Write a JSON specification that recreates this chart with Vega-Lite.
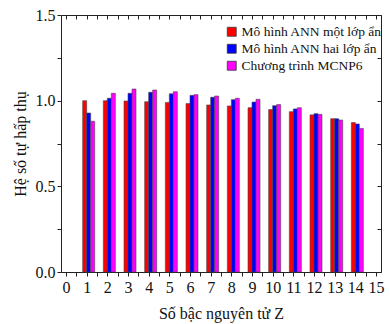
{
  "$schema": "https://vega.github.io/schema/vega-lite/v6.json",
  "width": 320,
  "height": 257,
  "autosize": {"type": "none"},
  "padding": {"left": 61, "top": 15, "right": 9, "bottom": 52},
  "background": "white",
  "config": {
    "view": {"stroke": null},
    "font": "Liberation Serif",
    "axis": {
      "domainColor": "#222",
      "tickColor": "#222",
      "labelColor": "#111",
      "titleColor": "#111",
      "labelFont": "Liberation Serif",
      "titleFont": "Liberation Serif",
      "labelFontSize": 16,
      "titleFontSize": 16,
      "titleFontWeight": "normal",
      "grid": false
    },
    "legend": {
      "labelFont": "Liberation Serif",
      "labelFontSize": 13.5,
      "labelColor": "#111",
      "labelLimit": 220
    }
  },
  "data": {
    "values": [
      {"Z": 1, "series": "Mô hình ANN một lớp ẩn", "value": 1.0},
      {"Z": 1, "series": "Mô hình ANN hai lớp ẩn", "value": 0.928},
      {"Z": 1, "series": "Chương trình MCNP6", "value": 0.88},
      {"Z": 2, "series": "Mô hình ANN một lớp ẩn", "value": 1.0},
      {"Z": 2, "series": "Mô hình ANN hai lớp ẩn", "value": 1.014},
      {"Z": 2, "series": "Chương trình MCNP6", "value": 1.043},
      {"Z": 3, "series": "Mô hình ANN một lớp ẩn", "value": 0.998},
      {"Z": 3, "series": "Mô hình ANN hai lớp ẩn", "value": 1.043},
      {"Z": 3, "series": "Chương trình MCNP6", "value": 1.068},
      {"Z": 4, "series": "Mô hình ANN một lớp ẩn", "value": 0.994},
      {"Z": 4, "series": "Mô hình ANN hai lớp ẩn", "value": 1.049},
      {"Z": 4, "series": "Chương trình MCNP6", "value": 1.062},
      {"Z": 5, "series": "Mô hình ANN một lớp ẩn", "value": 0.99},
      {"Z": 5, "series": "Mô hình ANN hai lớp ẩn", "value": 1.04},
      {"Z": 5, "series": "Chương trình MCNP6", "value": 1.052},
      {"Z": 6, "series": "Mô hình ANN một lớp ẩn", "value": 0.983},
      {"Z": 6, "series": "Mô hình ANN hai lớp ẩn", "value": 1.031},
      {"Z": 6, "series": "Chương trình MCNP6", "value": 1.035},
      {"Z": 7, "series": "Mô hình ANN một lớp ẩn", "value": 0.975},
      {"Z": 7, "series": "Mô hình ANN hai lớp ẩn", "value": 1.02},
      {"Z": 7, "series": "Chương trình MCNP6", "value": 1.027},
      {"Z": 8, "series": "Mô hình ANN một lớp ẩn", "value": 0.969},
      {"Z": 8, "series": "Mô hình ANN hai lớp ẩn", "value": 1.006},
      {"Z": 8, "series": "Chương trình MCNP6", "value": 1.014},
      {"Z": 9, "series": "Mô hình ANN một lớp ẩn", "value": 0.959},
      {"Z": 9, "series": "Mô hình ANN hai lớp ẩn", "value": 0.992},
      {"Z": 9, "series": "Chương trình MCNP6", "value": 1.008},
      {"Z": 10, "series": "Mô hình ANN một lớp ẩn", "value": 0.948},
      {"Z": 10, "series": "Mô hình ANN hai lớp ẩn", "value": 0.971},
      {"Z": 10, "series": "Chương trình MCNP6", "value": 0.977},
      {"Z": 11, "series": "Mô hình ANN một lớp ẩn", "value": 0.936},
      {"Z": 11, "series": "Mô hình ANN hai lớp ẩn", "value": 0.952},
      {"Z": 11, "series": "Chương trình MCNP6", "value": 0.959},
      {"Z": 12, "series": "Mô hình ANN một lớp ẩn", "value": 0.917},
      {"Z": 12, "series": "Mô hình ANN hai lớp ẩn", "value": 0.924},
      {"Z": 12, "series": "Chương trình MCNP6", "value": 0.92},
      {"Z": 13, "series": "Mô hình ANN một lớp ẩn", "value": 0.895},
      {"Z": 13, "series": "Mô hình ANN hai lớp ẩn", "value": 0.895},
      {"Z": 13, "series": "Chương trình MCNP6", "value": 0.887},
      {"Z": 14, "series": "Mô hình ANN một lớp ẩn", "value": 0.872},
      {"Z": 14, "series": "Mô hình ANN hai lớp ẩn", "value": 0.864},
      {"Z": 14, "series": "Chương trình MCNP6", "value": 0.838}
    ]
  },
  "layer": [
    {
      "encoding": {
        "x": {
          "field": "Z",
          "type": "quantitative",
          "scale": {"domain": [0, 15], "nice": false, "zero": false},
          "axis": {
            "orient": "bottom",
            "title": "Số bậc nguyên tử Z",
            "values": [0, 0.5, 1, 1.5, 2, 2.5, 3, 3.5, 4, 4.5, 5, 5.5, 6, 6.5, 7, 7.5, 8, 8.5, 9, 9.5, 10, 10.5, 11, 11.5, 12, 12.5, 13, 13.5, 14, 14.5, 15],
            "labelExpr": "datum.value % 1 === 0 ? format(datum.value, 'd') : ''",
            "tickSize": 4,
            "labelPadding": 3,
            "titlePadding": 10,
            "labelFlush": false,
            "labelOverlap": false
          }
        },
        "y": {
          "field": "value",
          "type": "quantitative",
          "scale": {"domain": [0, 1.5], "nice": false},
          "axis": {
            "orient": "left",
            "title": "Hệ số tự hấp thụ",
            "values": [0, 0.25, 0.5, 0.75, 1, 1.25, 1.5],
            "labelExpr": "datum.value * 2 % 1 === 0 ? format(datum.value, '.1f') : ''",
            "tickSize": 4,
            "labelPadding": 2,
            "titlePadding": 7
          }
        },
        "color": {
          "field": "series",
          "type": "nominal",
          "sort": ["Mô hình ANN một lớp ẩn", "Mô hình ANN hai lớp ẩn", "Chương trình MCNP6"],
          "scale": {
            "domain": ["Mô hình ANN một lớp ẩn", "Mô hình ANN hai lớp ẩn", "Chương trình MCNP6"],
            "range": ["#ff0000", "#0000ff", "#ff00ff"]
          },
          "legend": {
            "title": null,
            "orient": "none",
            "legendX": 164,
            "legendY": 10,
            "symbolType": "square",
            "symbolSize": 80,
            "symbolStrokeColor": "#333",
            "symbolStrokeWidth": 0.8,
            "rowPadding": 2,
            "labelOffset": 3
          }
        }
      },
      "layer": [
        {
          "transform": [{"filter": "datum.series === 'Mô hình ANN một lớp ẩn'"}],
          "mark": {"type": "bar", "width": 4, "xOffset": -2, "stroke": "#444", "strokeWidth": 0.6}
        },
        {
          "transform": [{"filter": "datum.series === 'Mô hình ANN hai lớp ẩn'"}],
          "mark": {"type": "bar", "width": 4, "xOffset": 2, "stroke": "#444", "strokeWidth": 0.6}
        },
        {
          "transform": [{"filter": "datum.series === 'Chương trình MCNP6'"}],
          "mark": {"type": "bar", "width": 4, "xOffset": 6, "stroke": "#444", "strokeWidth": 0.6}
        }
      ]
    },
    {
      "mark": {"type": "point", "opacity": 0},
      "encoding": {
        "x": {
          "field": "Z",
          "type": "quantitative",
          "axis": {
            "orient": "top",
            "title": null,
            "labels": false,
            "values": [0, 0.5, 1, 1.5, 2, 2.5, 3, 3.5, 4, 4.5, 5, 5.5, 6, 6.5, 7, 7.5, 8, 8.5, 9, 9.5, 10, 10.5, 11, 11.5, 12, 12.5, 13, 13.5, 14, 14.5, 15],
            "tickSize": -4
          }
        },
        "y": {
          "field": "value",
          "type": "quantitative",
          "axis": {
            "orient": "right",
            "title": null,
            "labels": false,
            "values": [0, 0.25, 0.5, 0.75, 1, 1.25, 1.5],
            "tickSize": -4
          }
        }
      }
    }
  ],
  "resolve": {"axis": {"x": "independent", "y": "independent"}}
}
